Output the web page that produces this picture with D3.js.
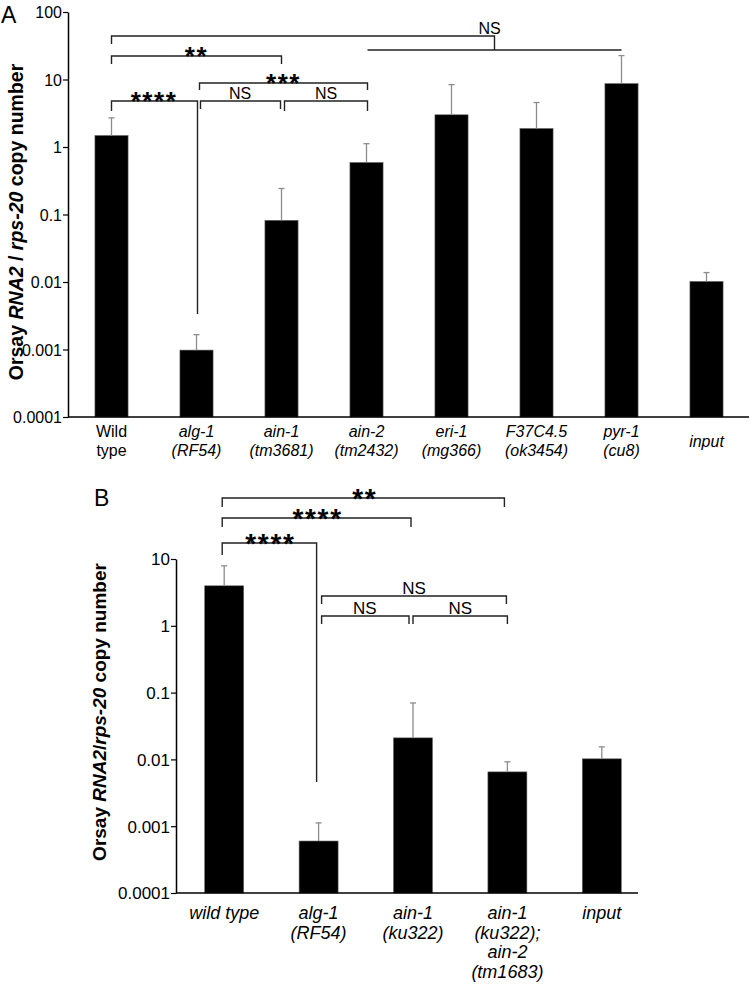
<!DOCTYPE html>
<html>
<head>
<meta charset="utf-8">
<script src="https://cdn.jsdelivr.net/npm/d3@7/dist/d3.min.js"></script>
<style>
  html, body { margin: 0; padding: 0; background: #fff; }
  svg { display: block; font-family: "Liberation Sans", Arial, sans-serif; }
</style>
</head>
<body>
<svg id="chart" width="750" height="985"></svg>
<script>
// ---------------- DATA ----------------
const categoriesA = ["Wild type", "alg-1 (RF54)", "ain-1 (tm3681)", "ain-2 (tm2432)", "eri-1 (mg366)", "F37C4.5 (ok3454)", "pyr-1 (cu8)", "input"];
const labelLinesA = [["Wild", "type"], ["alg-1", "(RF54)"], ["ain-1", "(tm3681)"], ["ain-2", "(tm2432)"], ["eri-1", "(mg366)"], ["F37C4.5", "(ok3454)"], ["pyr-1", "(cu8)"], ["input"]];
const italicA = [false, true, true, true, true, true, true, true];
const valuesA = [1.48, 0.00098, 0.082, 0.59, 3.0, 1.88, 8.7, 0.0102];
const errorUpperA = [2.7, 0.00166, 0.243, 1.12, 8.4, 4.56, 22.6, 0.0138];

const categoriesB = ["wild type", "alg-1 (RF54)", "ain-1 (ku322)", "ain-1 (ku322); ain-2 (tm1683)", "input"];
const labelLinesB = [["wild type"], ["alg-1", "(RF54)"], ["ain-1", "(ku322)"], ["ain-1", "(ku322);", "ain-2", "(tm1683)"], ["input"]];
const valuesB = [3.97, 0.0006, 0.021, 0.0065, 0.0102];
const errorUpperB = [7.9, 0.00112, 0.07, 0.0092, 0.0154];

const tickValuesA = [100, 10, 1, 0.1, 0.01, 0.001, 0.0001];
const tickLabelsA = ["100", "10", "1", "0.1", "0.01", "0.001", "0.0001"];
const tickValuesB = [10, 1, 0.1, 0.01, 0.001, 0.0001];
const tickLabelsB = ["10", "1", "0.1", "0.01", "0.001", "0.0001"];

// significance comparisons: [from category, to category, label]
const sigA = [
  ["Wild type", "ain-1 (tm3681)", "**"],
  ["alg-1 (RF54)", "ain-2 (tm2432)", "***"],
  ["Wild type", "alg-1 (RF54)", "****"],
  ["alg-1 (RF54)", "ain-1 (tm3681)", "NS"],
  ["ain-1 (tm3681)", "ain-2 (tm2432)", "NS"]
];
const sigGroupA = ["Wild type", ["ain-2 (tm2432)", "pyr-1 (cu8)"], "NS"];
const sigB = [
  ["wild type", "ain-1 (ku322); ain-2 (tm1683)", "**"],
  ["wild type", "ain-1 (ku322)", "****"],
  ["wild type", "alg-1 (RF54)", "****"],
  ["alg-1 (RF54)", "ain-1 (ku322); ain-2 (tm1683)", "NS"],
  ["alg-1 (RF54)", "ain-1 (ku322)", "NS"],
  ["ain-1 (ku322)", "ain-1 (ku322); ain-2 (tm1683)", "NS"]
];

// ---------------- LAYOUT ----------------
const svg = d3.select("#chart");
const FONT = "Liberation Sans, Arial, sans-serif";
const BR = "#222";
const ERR = "#8c8c8c";

function drawPanel(o) {
  const g = svg.append("g");
  const x = d3.scaleBand().domain(o.cats).range(o.xRange).paddingInner(o.padIn).paddingOuter(o.padIn / 2);
  const y = d3.scaleLog().domain(o.yDomain).range(o.yRange);

  // y axis
  const yAxis = d3.axisLeft(y).tickValues(o.tickValues)
    .tickFormat((d, i) => o.tickLabels[i]).tickSize(5).tickSizeOuter(0).tickPadding(1);
  const ya = g.append("g").attr("transform", `translate(${o.xRange[0] - 1},0)`).call(yAxis);
  ya.select(".domain").attr("stroke", "#000").attr("stroke-width", 1.5);
  ya.selectAll(".tick line").attr("stroke", "#000").attr("stroke-width", 1.2);
  ya.selectAll(".tick text").attr("font-family", FONT).attr("font-size", o.tickFont).attr("fill", "#000").attr("dy", "0.35em");

  // bars
  g.selectAll("rect.bar").data(o.cats).enter().append("rect")
    .attr("x", d => x(d)).attr("width", x.bandwidth())
    .attr("y", (d, i) => y(o.values[i]))
    .attr("height", (d, i) => y(o.yDomain[0]) - y(o.values[i]))
    .attr("fill", "#000").attr("stroke", "#666").attr("stroke-width", 0.6);

  // error bars (upper)
  const eb = g.selectAll("g.err").data(o.cats).enter().append("g");
  eb.append("line")
    .attr("x1", d => x(d) + x.bandwidth() / 2).attr("x2", d => x(d) + x.bandwidth() / 2)
    .attr("y1", (d, i) => y(o.values[i])).attr("y2", (d, i) => y(o.errUpper[i]))
    .attr("stroke", ERR).attr("stroke-width", 1.3);
  eb.append("line")
    .attr("x1", d => x(d) + x.bandwidth() / 2 - 3).attr("x2", d => x(d) + x.bandwidth() / 2 + 3)
    .attr("y1", (d, i) => y(o.errUpper[i])).attr("y2", (d, i) => y(o.errUpper[i]))
    .attr("stroke", ERR).attr("stroke-width", 1.3);

  // x axis line
  g.append("line").attr("x1", o.xRange[0] - 1).attr("x2", o.xAxisEnd)
    .attr("y1", y(o.yDomain[0])).attr("y2", y(o.yDomain[0]))
    .attr("stroke", "#000").attr("stroke-width", 1.5);

  // x labels
  o.cats.forEach((c, i) => {
    const lines = o.labelLines[i];
    const cx = x(c) + x.bandwidth() / 2;
    const y0 = lines.length === 1 && o.singleCenter ? o.labelY + o.lineH / 2 : o.labelY;
    const t = g.append("text").attr("x", cx).attr("y", y0).attr("text-anchor", "middle")
      .attr("font-family", FONT).attr("font-size", o.labelFont).attr("fill", "#000")
      .attr("font-style", o.italic[i] ? "italic" : "normal");
    lines.forEach((ln, j) => {
      t.append("tspan").attr("x", cx).attr("y", y0 + j * o.lineH).text(ln);
    });
  });

  // y label
  const yl = g.append("text")
    .attr("transform", `translate(${o.yLabelX},${o.yLabelY}) rotate(-90)`)
    .attr("text-anchor", "middle").attr("font-family", FONT).attr("font-size", o.yLabelFont)
    .attr("font-weight", "bold").attr("fill", "#000");
  o.yLabelParts.forEach(p => yl.append("tspan").attr("font-style", p[1] ? "italic" : "normal").text(p[0]));

  // panel letter
  g.append("text").attr("x", o.letterPos[0]).attr("y", o.letterPos[1])
    .attr("font-family", FONT).attr("font-size", 23).attr("fill", "#000").text(o.letter);

  return { g, x, y };
}

function cx(x, c) { return x(c) + x.bandwidth() / 2; }

function label(g, xc, lineY, text, starSize, nsSize) {
  if (text === "NS") {
    g.append("text").attr("x", xc).attr("y", lineY - 2).attr("text-anchor", "middle")
      .attr("font-family", FONT).attr("font-size", nsSize || 16).attr("fill", "#000").text(text);
  } else {
    g.append("text").attr("x", xc).attr("y", lineY - 1 + 0.40 * starSize).attr("text-anchor", "middle")
      .attr("font-family", FONT).attr("font-size", starSize).attr("font-weight", "bold")
      .attr("letter-spacing", starSize * 0.06).attr("fill", "#000").text(text);
  }
}

function bracket(g, x1, x2, yLine, leftEnd, rightEnd) {
  g.append("path")
    .attr("d", `M${x1},${leftEnd} V${yLine} H${x2} V${rightEnd}`)
    .attr("fill", "none").attr("stroke", BR).attr("stroke-width", 1.4);
}

// ---------------- PANEL A ----------------
const A = drawPanel({
  cats: categoriesA, values: valuesA, errUpper: errorUpperA, labelLines: labelLinesA, italic: italicA,
  xRange: [69, 749], padIn: 0.61, xAxisEnd: 749,
  yDomain: [1e-4, 100], yRange: [417, 12],
  tickValues: tickValuesA, tickLabels: tickLabelsA, tickFont: 16,
  labelY: 437, lineH: 19, singleCenter: true, labelFont: 16,
  yLabelX: 23, yLabelY: 222, yLabelFont: 19.5,
  yLabelParts: [["Orsay ", false], ["RNA2", true], [" / ", false], ["rps-20", true], [" copy number", false]],
  letter: "A", letterPos: [1, 23]
});
{
  const g = A.g, x = A.x;
  const [c0, grp, t0] = sigGroupA;
  const gx1 = cx(x, grp[0]) + 1, gx2 = cx(x, grp[1]);
  const mid = (gx1 + gx2) / 2;
  bracket(g, cx(x, c0), mid, 36, 44, 50);
  g.append("line").attr("x1", gx1).attr("x2", gx2).attr("y1", 50).attr("y2", 50)
    .attr("stroke", BR).attr("stroke-width", 1.4);
  label(g, mid - 5, 36, t0, 24);

  let s = sigA[0];
  bracket(g, cx(x, s[0]), cx(x, s[1]), 56, 64, 64);
  label(g, (cx(x, s[0]) + cx(x, s[1])) / 2, 56, s[2], 26);
  s = sigA[1];
  bracket(g, cx(x, s[0]) + 3, cx(x, s[1]) + 1, 83, 90, 90);
  label(g, (cx(x, s[0]) + cx(x, s[1])) / 2 + 2, 83, s[2], 26);
  s = sigA[2];
  bracket(g, cx(x, s[0]), cx(x, s[1]) + 1, 101, 111, 314);
  label(g, (cx(x, s[0]) + cx(x, s[1])) / 2, 101, s[2], 26);
  s = sigA[3];
  bracket(g, cx(x, s[0]) + 4, cx(x, s[1]) - 1, 101, 109, 109);
  label(g, (cx(x, s[0]) + cx(x, s[1])) / 2 + 1, 101, s[2], 26);
  s = sigA[4];
  bracket(g, cx(x, s[0]) + 3, cx(x, s[1]) + 1, 101, 111, 111);
  label(g, (cx(x, s[0]) + cx(x, s[1])) / 2 + 2, 101, s[2], 26);
}

// ---------------- PANEL B ----------------
const B = drawPanel({
  cats: categoriesB, values: valuesB, errUpper: errorUpperB, labelLines: labelLinesB,
  italic: categoriesB.map(() => true),
  xRange: [177, 649], padIn: 0.587, xAxisEnd: 638,
  yDomain: [1e-4, 10], yRange: [893, 559],
  tickValues: tickValuesB, tickLabels: tickLabelsB, tickFont: 17,
  labelY: 919, lineH: 19.7, singleCenter: false, labelFont: 18,
  yLabelX: 106, yLabelY: 712, yLabelFont: 19,
  yLabelParts: [["Orsay ", false], ["RNA2", true], ["/", false], ["rps-20", true], [" copy number", false]],
  letter: "B", letterPos: [94, 506]
});
{
  const g = B.g, x = B.x;
  let s = sigB[0];
  bracket(g, cx(x, s[0]) - 2, cx(x, s[1]) - 3, 498, 507, 507);
  label(g, (cx(x, s[0]) + cx(x, s[1])) / 2 - 1, 498, s[2], 28);
  s = sigB[1];
  bracket(g, cx(x, s[0]) - 2, cx(x, s[1]) - 2, 518, 527, 527);
  label(g, (cx(x, s[0]) + cx(x, s[1])) / 2 - 1, 518, s[2], 28);
  s = sigB[2];
  bracket(g, cx(x, s[0]) - 2, cx(x, s[1]) - 2, 543, 555, 782);
  label(g, (cx(x, s[0]) + cx(x, s[1])) / 2 - 1, 543, s[2], 28);
  s = sigB[3];
  bracket(g, cx(x, s[0]) + 3, cx(x, s[1]) - 1, 596, 604, 604);
  label(g, (cx(x, s[0]) + cx(x, s[1])) / 2 + 1, 596, s[2], 28, 17);
  s = sigB[4];
  bracket(g, cx(x, s[0]) + 3, cx(x, s[1]) - 4, 616, 624, 624);
  label(g, (cx(x, s[0]) + cx(x, s[1])) / 2 - 1, 616, s[2], 28, 17);
  s = sigB[5];
  bracket(g, cx(x, s[0]) + 0, cx(x, s[1]) + 0, 616, 624, 624);
  label(g, (cx(x, s[0]) + cx(x, s[1])) / 2, 616, s[2], 28, 17);
}
</script>
</body>
</html>
